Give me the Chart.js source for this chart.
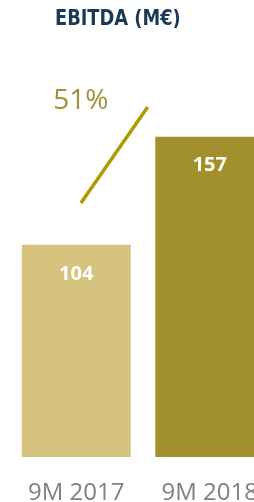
<!DOCTYPE html>
<html>
<head>
<meta charset="utf-8">
<script src="https://cdn.jsdelivr.net/npm/chart.js@4"></script>
<style>
  html, body { margin: 0; padding: 0; background: #fff; overflow: hidden; width: 254px; height: 502px; }
  #wrap { position: relative; width: 254px; height: 502px; overflow: hidden; }
  #title { position: absolute; left: 55px; top: 5px; font-family: "DejaVu Sans Condensed", "DejaVu Sans"; font-stretch: condensed; font-weight: bold; font-size: 22px; color: #1b3a57; white-space: nowrap; transform: scaleX(0.9); transform-origin: left top; }
  #chart { position: absolute; left: 0; top: 0; }
</style>
</head>
<body>
<div id="wrap">
  <canvas id="chart" width="282" height="502"></canvas>
  <div id="title">EBITDA (M€)</div>
</div>
<script>
const periods = ['9M 2017', '9M 2018'];
const ebitda = [104, 157];
const barColors = ['#d6c47e', '#a2902c'];
const growthLabel = '51%';
// connector line between the bars (x in category units, y in M€)
const growthLineX = [0.035, 0.535];
const growthLineY = [124.5, 171.6];

const valueLabels = {
    id: 'valueLabels',
    afterDatasetsDraw(chart) {
        const ctx = chart.ctx;
        ctx.save();
        const bars = chart.getDatasetMeta(0).data;
        ctx.fillStyle = '#ffffff';
        ctx.font = 'bold 20px "Open Sans"';
        ctx.textAlign = 'center';
        ctx.textBaseline = 'middle';
        bars.forEach((bar, i) => {
            ctx.fillText(String(ebitda[i]), bar.x, bar.y + 29);
        });
        const pts = chart.getDatasetMeta(1).data;
        ctx.fillStyle = '#9f903b';
        ctx.font = '28px "Open Sans"';
        ctx.fillText(growthLabel, pts[0].x, pts[1].y - 6);
        ctx.restore();
    }
};

new Chart(document.getElementById('chart'), {
    type: 'bar',
    data: {
        labels: periods,
        datasets: [{
            data: ebitda,
            backgroundColor: barColors,
            barPercentage: 0.816,
            categoryPercentage: 1,
            grouped: false,
            xAxisID: 'x',
            order: 2
        }, {
            type: 'line',
            data: growthLineX.map((x, i) => ({ x, y: growthLineY[i] })),
            borderColor: '#b09a00',
            borderWidth: 3.5,
            pointRadius: 0,
            fill: false,
            xAxisID: 'x2',
            order: 1
        }]
    },
    plugins: [valueLabels],
    options: {
        responsive: false,
        animation: false,
        layout: { padding: { left: 9.5, right: 0, top: 49, bottom: -27 } },
        plugins: { legend: { display: false }, tooltip: { enabled: false } },
        scales: {
            x: {
                grid: { display: false, drawTicks: false },
                border: { display: false },
                ticks: { color: '#808080', font: { family: 'Open Sans', size: 24, lineHeight: 1 }, padding: 24 }
            },
            x2: { type: 'linear', display: false, offset: false, min: -0.5, max: 1.5 },
            y: { display: false, min: 0, max: 200 }
        }
    }
});
</script>
</body>
</html>
